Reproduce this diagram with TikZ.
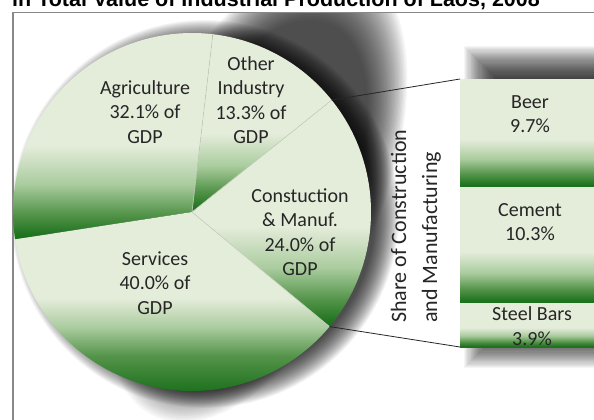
\documentclass[tikz,border=0pt]{standalone}
\usepackage{fontspec}
\setmainfont{Carlito}
\newfontfamily\titlefont{Liberation Sans}
\definecolor{gpale}{RGB}{228,236,218}
\definecolor{glight}{RGB}{170,204,158}
\definecolor{gmid}{RGB}{84,148,74}
\definecolor{gdark}{RGB}{30,114,30}
\definecolor{edgec}{RGB}{200,208,192}
\definecolor{txt}{RGB}{38,38,38}
\definecolor{framec}{RGB}{136,136,136}
\pgfdeclareverticalshading{greenfade}{100bp}{color(0bp)=(gdark); color(26bp)=(gdark); color(31bp)=(gmid); color(38bp)=(glight); color(47bp)=(gpale); color(100bp)=(gpale)}
\pgfdeclareverticalshading{greenfadelong}{100bp}{color(0bp)=(gdark); color(28.5bp)=(gdark); color(37.5bp)=(gmid); color(45bp)=(glight); color(52.5bp)=(gpale); color(100bp)=(gpale)}
\tikzset{
  pieshade/.style={shading=greenfade},
  pieshadelong/.style={shading=greenfadelong},
  lbl/.style={align=center, text=txt, inner sep=0pt, font=\fontsize{20}{24.5}\selectfont},
  vlbl/.style={rotate=90, anchor=base west, inner sep=0pt, text=txt, font=\fontsize{22}{26}\selectfont},
  connline/.style={draw=black!85, line width=0.8pt},
  slicesep/.style={draw=edgec, line width=0.6pt},
  shadowlayer/.style={fill=black, opacity=#1},
}
\begin{document}
\begin{tikzpicture}[x=1pt,y=-1pt]
\useasboundingbox (0,0) rectangle (594,420);
\clip (0,0) rectangle (594,420);
\fill[white] (0,0) rectangle (594,420);

% soft shadows
\begin{scope}
  \clip (14,13.5) rectangle (600,430);
  \foreach \i in {0,...,29}{
    \pgfmathsetmacro\rr{1.15-0.3*\i/29}
    \fill[shadowlayer=0.034, cm={115,0,64,201,(256,191)}] (0,0) circle (\rr);
  }
  \foreach \i in {0,...,29}{
    \pgfmathsetmacro\rr{194-24*\i/29}
    \fill[shadowlayer=0.036] (205,214) circle (\rr);
  }
  \foreach \i in {0,...,29}{
    \pgfmathsetmacro\dd{16-32*\i/29}
    \fill[shadowlayer=0.04] ({480-\dd},{62-\dd}) rectangle ({640+\dd},{352+\dd});
  }
\end{scope}

% frame
\draw[framec, line width=1.6pt] (13,12.5) rectangle (640,460);

% title
\node[anchor=base west, inner sep=0pt, font={\titlefont\bfseries\fontsize{21.5}{25}\selectfont}] (title) at (12,7) {in Total Value of Industrial Production of Laos, 2008};

% pie
\coordinate (pc) at (192,212);
\def\R{179}
\shade[pieshade] (pc) -- ++(39.8:\R) arc[start angle=39.8, end angle=-38.7, radius=\R] -- cycle;
\shade[pieshade] (pc) -- ++(-38.7:\R) arc[start angle=-38.7, end angle=-83.3, radius=\R] -- cycle;
\shade[pieshade] (pc) -- ++(-83.3:\R) arc[start angle=-83.3, end angle=-188.8, radius=\R] -- cycle;
\shade[pieshadelong] (pc) -- ++(-188.8:\R) arc[start angle=-188.8, end angle=-320.2, radius=\R] -- cycle;
\path (pc) ++(39.8:\R) coordinate (bCS);
\path (pc) ++(-38.7:\R) coordinate (bCO);
\path (pc) ++(-83.3:\R) coordinate (bOA);
\path (pc) ++(-188.8:\R) coordinate (bAS);
\draw[slicesep] (bCO) -- (pc) -- (bOA);
\draw[slicesep] (bCS) -- (pc);

\node[lbl] (agri) at (145,112) {Agriculture\\32.1\% of\\GDP};
\node[lbl] (oth) at (251,100) {Other\\Industry\\13.3\% of\\GDP};
\node[lbl] (con) at (300,232) {Constuction\\\& Manuf.\\24.0\% of\\GDP};
\node[lbl] (ser) at (155,283) {Services\\40.0\% of\\GDP};

% bar
\coordinate (btop) at (460,79);
\coordinate (bbot) at (460,347);
\shade[pieshade] (460,79) rectangle (610,187);
\shade[pieshade] (460,187) rectangle (610,303);
\shade[pieshade] (460,303) rectangle (610,347);
\node[lbl] (beer) at (530,114) {Beer\\9.7\%};
\node[lbl] (cem) at (530,222) {Cement\\10.3\%};
\node[lbl] (steel) at (532,326) {Steel Bars\\3.9\%};

% connectors
\draw[connline] (bCO) -- (btop);
\draw[connline] (bCS) -- (bbot);

% vertical caption
\node[vlbl] (v1) at (406,323) {Share of Construction};
\node[vlbl] (v2) at (437,323) {and Manufacturing};
\end{tikzpicture}
\end{document}
